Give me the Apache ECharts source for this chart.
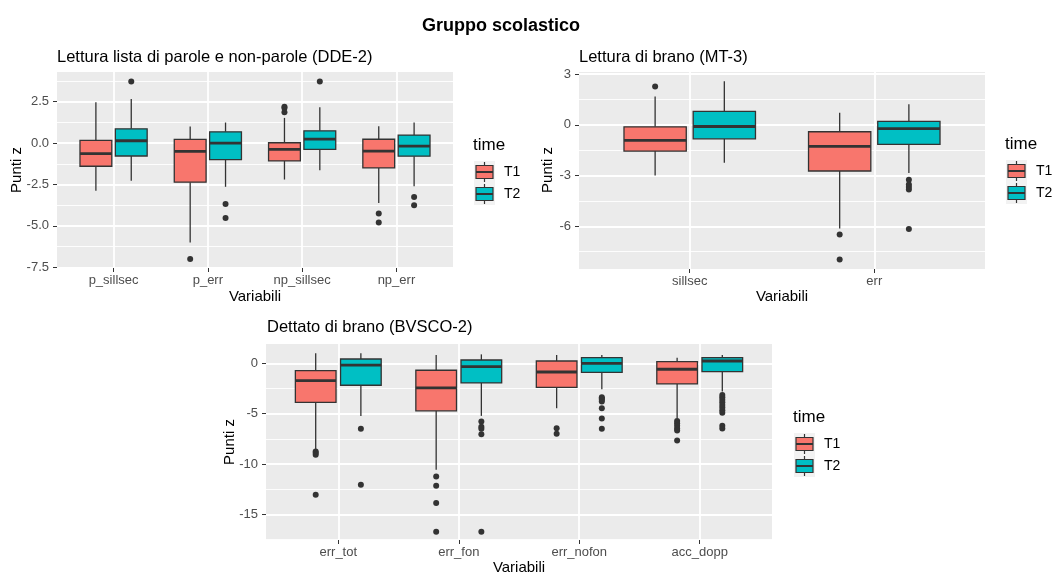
<!DOCTYPE html>
<html>
<head>
<meta charset="utf-8">
<script src="https://cdn.jsdelivr.net/npm/echarts@6/dist/echarts.min.js"></script>
<style>
html, body { margin: 0; padding: 0; background: #fff; }
#chart { width: 1055px; height: 576px; }
</style>
</head>
<body>
<div id="chart"></div>
<script>
// ---- data: [lower whisker, Q1, median, Q3, upper whisker] ----
const ddeCats = ['p_sillsec', 'p_err', 'np_sillsec', 'np_err'];
const ddeT1 = [[-2.88, -1.40, -0.64, 0.16, 2.46], [-6.00, -2.36, -0.50, 0.22, 1.00],
               [-2.20, -1.08, -0.38, 0.02, 1.52], [-3.62, -1.50, -0.48, 0.23, 1.01]];
const ddeT2 = [[-2.28, -0.78, 0.14, 0.86, 2.66], [-2.64, -1.00, 0.00, 0.68, 1.24],
               [-1.64, -0.38, 0.24, 0.74, 2.16], [-2.60, -0.79, -0.19, 0.48, 1.24]];
const ddeT1Out = [['p_err', -7.0], ['np_sillsec', 2.2], ['np_sillsec', 2.12], ['np_sillsec', 1.86],
                  ['np_err', -4.25], ['np_err', -4.79]];
const ddeT2Out = [['p_sillsec', 3.72], ['p_err', -3.68], ['p_err', -4.52], ['np_sillsec', 3.72],
                  ['np_err', -3.26], ['np_err', -3.76]];
const ddeTicks = [-7.5, -5, -2.5, 0, 2.5];
const ddeMinor = [-6.25, -3.75, -1.25, 1.25, 3.75];

const mtCats = ['sillsec', 'err'];
const mtT1 = [[-2.99, -1.55, -0.92, -0.12, 1.67], [-6.13, -2.73, -1.28, -0.41, 0.71]];
const mtT2 = [[-2.24, -0.83, -0.10, 0.79, 2.57], [-2.85, -1.16, -0.22, 0.20, 1.22]];
const mtT1Out = [['sillsec', 2.26], ['err', -6.48], ['err', -7.96]];
const mtT2Out = [['err', -3.24], ['err', -3.52], ['err', -3.67], ['err', -3.83], ['err', -6.15]];
const mtTicks = [-6, -3, 0, 3];
const mtMinor = [-7.5, -4.5, -1.5, 1.5];

const bvCats = ['err_tot', 'err_fon', 'err_nofon', 'acc_dopp'];
const bvT1 = [[-8.59, -3.87, -1.72, -0.73, 0.99], [-10.57, -4.72, -2.44, -0.69, 0.83],
              [-4.46, -2.38, -0.86, 0.23, 0.83], [-5.45, -2.05, -0.59, 0.17, 0.56]];
const bvT2 = [[-5.22, -2.18, -0.17, 0.43, 0.99], [-5.22, -1.95, -0.33, 0.33, 0.89],
              [-2.58, -0.89, 0.00, 0.56, 0.83], [-2.81, -0.83, 0.23, 0.56, 0.83]];
const bvT1Out = [['err_tot', -8.75], ['err_tot', -8.92], ['err_tot', -9.08], ['err_tot', -13.05],
                 ['err_fon', -11.23], ['err_fon', -12.16], ['err_fon', -13.88], ['err_fon', -16.72],
                 ['err_nofon', -6.44], ['err_nofon', -7.0],
                 ['acc_dopp', -5.72], ['acc_dopp', -5.95], ['acc_dopp', -6.21], ['acc_dopp', -6.48],
                 ['acc_dopp', -6.67], ['acc_dopp', -7.66]];
const bvT2Out = [['err_tot', -6.51], ['err_tot', -12.06],
                 ['err_fon', -5.78], ['err_fon', -6.3], ['err_fon', -6.5], ['err_fon', -7.04], ['err_fon', -16.72],
                 ['err_nofon', -3.37], ['err_nofon', -3.5], ['err_nofon', -3.63], ['err_nofon', -3.8],
                 ['err_nofon', -4.46], ['err_nofon', -5.48], ['err_nofon', -6.51],
                 ['acc_dopp', -3.14], ['acc_dopp', -3.37], ['acc_dopp', -3.63], ['acc_dopp', -3.87],
                 ['acc_dopp', -4.13], ['acc_dopp', -4.39], ['acc_dopp', -4.66], ['acc_dopp', -4.92],
                 ['acc_dopp', -6.21], ['acc_dopp', -6.48]];
const bvTicks = [-15, -10, -5, 0];
const bvMinor = [-17.5, -12.5, -7.5, -2.5];

// ---- style ----
const FONT = "'Liberation Sans', Arial, Helvetica, sans-serif";
const FILL = { T1: '#F8766D', T2: '#00BFC4' };
const INK = '#333333';
const DODGE = 0.1875, HALF = 0.16875;

const panels = [
  { cats: ddeCats, t1: ddeT1, t2: ddeT2, o1: ddeT1Out, o2: ddeT2Out, ticks: ddeTicks, minor: ddeMinor,
    ymin: -7.54, ymax: 4.29, fmt: v => v.toFixed(1),
    grid: { left: 57, top: 72, width: 396, height: 196 } },
  { cats: mtCats, t1: mtT1, t2: mtT2, o1: mtT1Out, o2: mtT2Out, ticks: mtTicks, minor: mtMinor,
    ymin: -8.52, ymax: 3.12, fmt: v => String(v),
    grid: { left: 579, top: 72, width: 406, height: 197 } },
  { cats: bvCats, t1: bvT1, t2: bvT2, o1: bvT1Out, o2: bvT2Out, ticks: bvTicks, minor: bvMinor,
    ymin: -17.55, ymax: 1.92, fmt: v => String(v),
    grid: { left: 266, top: 344, width: 506, height: 196 } }
];

function boxRender(fill) {
  return function (params, api) {
    const x = api.value(0);
    const lo = api.coord([x, api.value(1)]);
    const q1 = api.coord([x, api.value(2)]);
    const md = api.coord([x, api.value(3)]);
    const q3 = api.coord([x, api.value(4)]);
    const hi = api.coord([x, api.value(5)]);
    const l = api.coord([x - HALF, 0])[0];
    const r = api.coord([x + HALF, 0])[0];
    const line = { stroke: INK, lineWidth: 1.3 };
    return {
      type: 'group',
      children: [
        { type: 'line', shape: { x1: lo[0], y1: lo[1], x2: q1[0], y2: q1[1] }, style: line },
        { type: 'line', shape: { x1: q3[0], y1: q3[1], x2: hi[0], y2: hi[1] }, style: line },
        { type: 'rect', shape: { x: l, y: q3[1], width: r - l, height: q1[1] - q3[1] },
          style: { fill: fill, stroke: INK, lineWidth: 1.3 } },
        { type: 'line', shape: { x1: l, y1: md[1], x2: r, y2: md[1] }, style: { stroke: INK, lineWidth: 2.8 } }
      ]
    };
  };
}

function boxSeries(name, stats, idx, offset) {
  return {
    type: 'custom', name: name, xAxisIndex: idx, yAxisIndex: idx,
    data: stats.map((s, i) => [i + 1 + offset].concat(s)),
    encode: { x: 0, y: [1, 2, 3, 4, 5] },
    renderItem: boxRender(FILL[name])
  };
}

function outlierSeries(name, cats, outs, idx, offset) {
  return {
    type: 'scatter', name: name, xAxisIndex: idx, yAxisIndex: idx,
    symbol: 'circle', symbolSize: 6, itemStyle: { color: INK, opacity: 1 },
    data: outs.map(o => [cats.indexOf(o[0]) + 1 + offset, o[1]])
  };
}

const grids = [], xAxes = [], yAxes = [], series = [], graphics = [];

panels.forEach((p, i) => {
  grids.push(Object.assign({ show: true, backgroundColor: '#EBEBEB', borderWidth: 0 }, p.grid));
  const catPos = p.cats.map((c, k) => k + 1);
  xAxes.push({
    type: 'value', gridIndex: i, min: 0.4, max: p.cats.length + 0.6, position: 'bottom',
    axisLine: { show: false, onZero: false },
    axisTick: { show: true, length: 4, lineStyle: { color: INK, width: 1 }, customValues: catPos },
    axisLabel: { customValues: catPos, formatter: v => p.cats[Math.round(v) - 1],
                 color: '#4D4D4D', fontSize: 13, fontFamily: FONT, margin: 6 },
    splitLine: { show: true, lineStyle: { color: '#FFFFFF', width: 1.8 } }
  });
  yAxes.push({
    type: 'value', gridIndex: i, min: p.ymin, max: p.ymax, position: 'left',
    axisLine: { show: false, onZero: false },
    axisTick: { show: true, length: 4, lineStyle: { color: INK, width: 1 }, customValues: p.ticks },
    axisLabel: { customValues: p.ticks, formatter: p.fmt, color: '#4D4D4D', fontSize: 13,
                 fontFamily: FONT, margin: 8 },
    splitLine: { show: true, lineStyle: { color: '#FFFFFF', width: 1.8 } }
  });
  series.push(boxSeries('T1', p.t1, i, -DODGE));
  series.push(boxSeries('T2', p.t2, i, DODGE));
  series.push(outlierSeries('T1', p.cats, p.o1, i, -DODGE));
  series.push(outlierSeries('T2', p.cats, p.o2, i, DODGE));
});

// minor gridlines on a second, invisible y axis per grid
panels.forEach((p, i) => {
  yAxes.push({
    type: 'value', gridIndex: i, min: p.ymin, max: p.ymax, position: 'right',
    axisLine: { show: false, onZero: false }, axisLabel: { show: false },
    axisTick: { show: false, customValues: p.minor },
    splitLine: { show: true, lineStyle: { color: '#FFFFFF', width: 0.9 } }
  });
});

function text(str, x, y, size, opts) {
  return Object.assign({
    type: 'text', x: x, y: y,
    style: Object.assign({ text: str, fontSize: size, fontFamily: FONT, fill: '#000000',
                           align: 'left', verticalAlign: 'middle' }, (opts && opts.style) || {})
  }, opts && opts.rotation ? { rotation: opts.rotation } : {});
}

function legend(left, top) {
  const kids = [text('time', left, top, 17)];
  const kx = left + 1, ky = top + 16;
  kids.push({ type: 'rect', shape: { x: kx, y: ky, width: 21, height: 44 }, style: { fill: '#F2F2F2' } });
  ['T1', 'T2'].forEach((n, k) => {
    const cy = ky + 11 + 22 * k, cx = kx + 10.5;
    kids.push({ type: 'line', shape: { x1: cx, y1: cy - 10, x2: cx, y2: cy + 10 }, style: { stroke: INK, lineWidth: 1.2 } });
    kids.push({ type: 'rect', shape: { x: kx + 2, y: cy - 6.5, width: 17, height: 13 },
                style: { fill: FILL[n], stroke: INK, lineWidth: 1.2 } });
    kids.push({ type: 'line', shape: { x1: kx + 2, y1: cy, x2: kx + 19, y2: cy }, style: { stroke: INK, lineWidth: 2 } });
    kids.push(text(n, left + 31, cy, 14));
  });
  return kids;
}

// titles
graphics.push(text('Gruppo scolastico', 501, 26, 18, { style: { align: 'center', fontWeight: 'bold' } }));
graphics.push(text('Lettura lista di parole e non-parole (DDE-2)', 57, 57, 16.5));
graphics.push(text('Lettura di brano (MT-3)', 579, 57, 16.5));
graphics.push(text('Dettato di brano (BVSCO-2)', 267, 327, 16.5));
// axis titles
graphics.push(text('Variabili', 255, 297, 15, { style: { align: 'center' } }));
graphics.push(text('Variabili', 782, 297, 15, { style: { align: 'center' } }));
graphics.push(text('Variabili', 519, 568, 15, { style: { align: 'center' } }));
graphics.push(text('Punti z', 17, 170, 15, { rotation: Math.PI / 2, style: { align: 'center' } }));
graphics.push(text('Punti z', 548, 170, 15, { rotation: Math.PI / 2, style: { align: 'center' } }));
graphics.push(text('Punti z', 230, 442, 15, { rotation: Math.PI / 2, style: { align: 'center' } }));
// legends
legend(473, 145).concat(legend(1005, 144), legend(793, 417)).forEach(g => graphics.push(g));

const chart = echarts.init(document.getElementById('chart'), null, { renderer: 'canvas' });
chart.setOption({
  animation: false,
  backgroundColor: '#FFFFFF',
  grid: grids,
  xAxis: xAxes,
  yAxis: yAxes,
  series: series,
  graphic: { elements: graphics }
});
</script>
</body>
</html>
